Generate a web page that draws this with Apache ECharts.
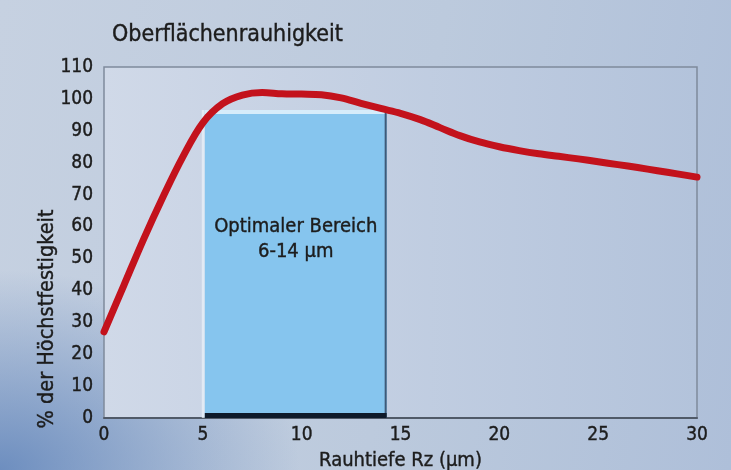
<!DOCTYPE html>
<html>
<head>
<meta charset="utf-8">
<script src="https://cdn.jsdelivr.net/npm/echarts@6/dist/echarts.min.js"></script>
<style>
  html, body { margin: 0; padding: 0; }
  #chart {
    width: 731px;
    height: 470px;
    background:
      radial-gradient(ellipse 300px 200px at 0% 100%, rgba(80, 120, 180, 0.75), rgba(80, 120, 180, 0) 100%),
      linear-gradient(100deg, #c6d1e1 0%, #bccadd 55%, #aebfd9 100%);
  }
</style>
</head>
<body>
<div id="chart"></div>
<script>
// Rauhtiefe Rz (µm) vs. % der Höchstfestigkeit
const roughness = [0, 1, 2, 3, 4, 5, 6, 7, 8, 9, 10, 11, 12, 13, 14, 15,
  16, 17, 18, 19, 20, 21, 22, 23, 24, 25, 26, 27, 28, 29, 30];
const strength = [27, 41.5, 56, 69.5, 82, 92.5, 98.5, 101.2, 102, 101.6, 101.5, 101.3, 100.3, 98.6, 97, 95.5,
  93.5, 91, 88.5, 86.5, 85, 83.8, 82.8, 82, 81.2, 80.3, 79.4, 78.5, 77.5, 76.5, 75.5];

// optimal range box: [from, to] in µm, height in %
const optimalRange = [5.1, 14.3];
const optimalTop = 96.5;
const optimalLabel = ['Optimaler Bereich', '6-14 µm'];

const xTicks = [0, 5, 10, 15, 20, 25, 30];

const font = '"DejaVu Sans Condensed", "DejaVu Sans", sans-serif';
const ink = '#1c1c1c';
// slight outline to get the heavier look of the original lettering
const heavy = { textBorderColor: ink, textBorderWidth: 0.4 };

const chart = echarts.init(document.getElementById('chart'));

const option = {
  backgroundColor: 'transparent',
  animation: false,
  title: {
    text: 'Oberflächenrauhigkeit',
    left: 107,
    top: 19,
    textStyle: { fontFamily: font, fontSize: 23, fontWeight: 'normal', color: ink, ...heavy }
  },
  grid: {
    left: 104,
    right: 34,
    top: 67,
    bottom: 52,
    outerBoundsMode: 'none',
    containLabel: false,
    show: true,
    backgroundColor: {
      type: 'linear', x: 0, y: 0, x2: 1, y2: 0,
      colorStops: [
        { offset: 0, color: '#d0d9e8' },
        { offset: 1, color: '#b3c3db' }
      ]
    },
    borderColor: '#7f8a9c',
    borderWidth: 1.5
  },
  graphic: [{
    type: 'text',
    x: 47,
    y: 319,
    rotation: Math.PI / 2,
    style: {
      text: '% der Höchstfestigkeit',
      align: 'center',
      verticalAlign: 'middle',
      font: '21.5px ' + font,
      fill: ink,
      stroke: ink,
      lineWidth: 0.4
    }
  }],
  xAxis: {
    type: 'value',
    min: 0,
    max: 30,
    interval: 5,
    name: 'Rauhtiefe Rz (µm)',
    nameLocation: 'middle',
    nameGap: 31,
    nameTextStyle: { fontFamily: font, fontSize: 20, color: ink, ...heavy },
    axisLine: { show: true, lineStyle: { color: '#505a68', width: 2 } },
    axisTick: { show: false },
    splitLine: { show: false },
    axisLabel: {
      fontFamily: font, fontSize: 19, color: ink, margin: 8, ...heavy,
      formatter: v => xTicks.includes(v) ? String(v) : ''
    }
  },
  yAxis: {
    type: 'value',
    min: 0,
    max: 110,
    interval: 10,
    axisLine: { show: false },
    axisTick: { show: false },
    splitLine: { show: false },
    axisLabel: { fontFamily: font, fontSize: 19, color: ink, margin: 11, ...heavy }
  },
  series: [
    {
      type: 'custom',
      z: 1,
      data: [[optimalRange[0], optimalRange[1], optimalTop]],
      renderItem: (params, api) => {
        const tl = api.coord([api.value(0), api.value(2)]);
        const br = api.coord([api.value(1), 0]);
        const w = br[0] - tl[0];
        const h = br[1] - tl[1];
        const mid = api.coord([(api.value(0) + api.value(1)) / 2, 56]);
        return {
          type: 'group',
          children: [
            { type: 'rect', shape: { x: tl[0] - 3, y: tl[1], width: 3, height: h }, style: { fill: 'rgba(235,242,250,0.7)' } },
            { type: 'rect', shape: { x: tl[0], y: tl[1], width: w, height: h }, style: { fill: '#86c5ee' } },
            { type: 'rect', shape: { x: tl[0], y: tl[1], width: w, height: 4 }, style: { fill: '#d6ecfa' } },
            { type: 'rect', shape: { x: br[0] - 2, y: tl[1] + 3, width: 2, height: h - 3 }, style: { fill: '#3f5a78' } },
            { type: 'rect', shape: { x: tl[0], y: br[1] - 5, width: w, height: 5 }, style: { fill: '#0e1a2a' } },
            {
              type: 'text',
              style: {
                x: mid[0], y: mid[1],
                text: optimalLabel.join('\n'),
                align: 'center', verticalAlign: 'middle',
                font: '20px ' + font,
                lineHeight: 25,
                fill: ink,
                stroke: ink,
                lineWidth: 0.4
              }
            }
          ]
        };
      }
    },
    {
      type: 'line',
      z: 3,
      smooth: 0.35,
      symbol: 'none',
      data: roughness.map((x, i) => [x, strength[i]]),
      lineStyle: { color: '#c3121c', width: 7, cap: 'round', join: 'round' }
    }
  ]
};

chart.setOption(option);
</script>
</body>
</html>
